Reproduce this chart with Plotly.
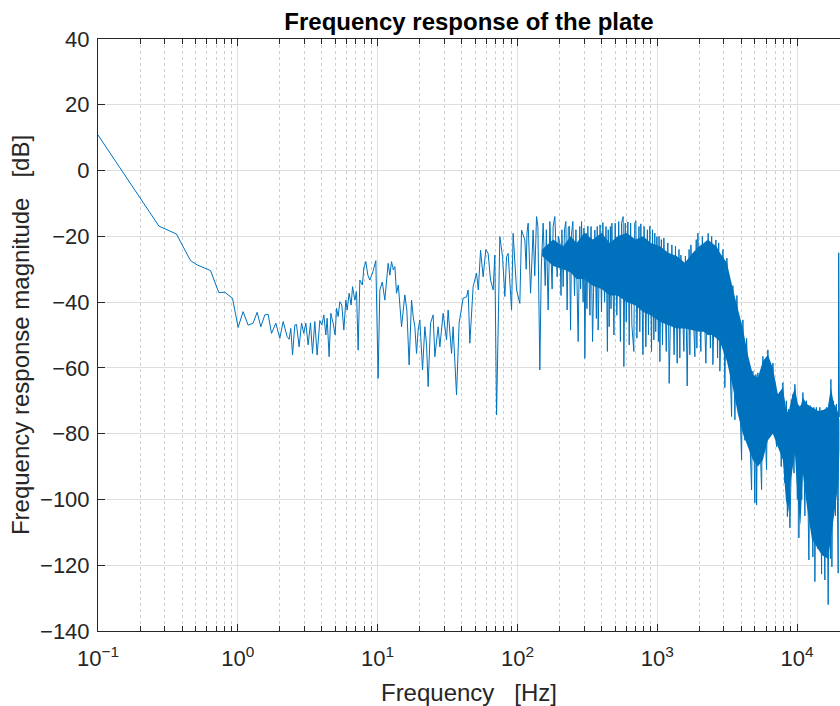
import plotly.graph_objects as go

# ---- data ----
# low-frequency part of the response (Hz, dB)
freq_low = [0.1, 0.273, 0.364, 0.459, 0.512, 0.638, 0.731, 0.807, 0.916, 1.005,
            1.091, 1.185, 1.286, 1.374, 1.461, 1.56, 1.647, 1.742, 1.87, 1.997,
            2.109, 2.253, 2.328, 2.393, 2.462, 2.557, 2.63, 2.745, 2.856, 2.965,
            3.064, 3.184, 3.311, 3.421, 3.554, 3.692, 3.86, 3.99, 4.124, 4.262,
            4.354, 4.50, 4.627, 4.806, 4.966, 5.082, 5.219, 5.366, 5.546, 5.731,
            5.924, 6.052, 6.255, 6.464, 6.616, 6.87, 7.063, 7.253, 7.46, 7.775,
            7.97, 8.234, 8.51, 8.797, 9.24, 9.707, 10.08, 10.37, 10.8, 11.26,
            11.89, 12.23, 12.57, 12.95, 13.28, 13.65, 14.06, 14.42, 14.83, 15.65,
            16.18, 16.80, 17.48, 18.01, 18.46, 18.98, 19.49, 20.04, 20.95, 21.76,
            22.38, 22.97, 23.9, 24.95, 25.66, 27.09, 27.86, 29.41, 31.11, 31.94,
            33.78, 34.67, 36.67, 38.28, 39.82, 40.89, 43.24, 44.40, 45.65, 48.21,
            50.98, 52.52, 54.46, 56.84, 59.43, 61.71, 64.21, 67.02, 68.92, 70.88,
            74.83, 78.23, 81.26, 83.56, 85.80, 90.74, 93.16, 98.53, 104.0, 106.98,
            112.96, 115.5, 117.0, 119.3, 124.1, 129.5, 133.0, 136.96, 140.0, 144.6,
            148.0, 152.7, 158.0, 161.0, 165.8, 170.5, 177.0, 180.0, 185.1, 192.3,
            196.0, 201.1, 205.0, 208.0]
mag_low = [10.8, -16.9, -19.3, -27.4, -28.7, -30.4, -37.1, -37.0, -38.8, -47.7,
           -42.9, -47.0, -46.4, -43.1, -47.5, -43.9, -43.7, -49.5, -46.4, -51.0,
           -45.9, -50.5, -51.3, -48.0, -56.1, -47.0, -46.8, -53.6, -46.4, -49.5,
           -46.4, -53.0, -46.3, -55.6, -45.9, -56.1, -45.6, -47.0, -43.9, -50.0,
           -44.9, -56.6, -43.4, -46.4, -50.0, -41.9, -44.4, -39.9, -40.9, -48.5,
           -39.4, -42.4, -37.3, -40.9, -35.3, -39.4, -36.8, -54.6, -33.3, -34.8,
           -29.6, -27.7, -31.8, -33.3, -30.8, -27.4, -63.2, -36.3, -33.9, -39.4,
           -28.2, -31.8, -27.7, -30.2, -29.2, -37.3, -34.8, -42.4, -47.5, -37.8,
           -42.4, -59.1, -39.4, -44.8, -47.5, -55.6, -48.5, -45.4, -60.6, -47.5,
           -53.0, -65.7, -46.4, -43.9, -56.6, -47.5, -53.6, -43.4, -51.5, -42.4,
           -55.6, -47.5, -68.2, -46.4, -42.4, -38.8, -38.4, -36.3, -52.5, -35.3,
           -31.2, -36.3, -24.2, -32.3, -24.0, -25.2, -33.3, -36.3, -25.7, -74.3,
           -20.1, -26.2, -38.3, -26.2, -25.2, -42.4, -19.1, -36.3, -40.4, -18.1,
           -21.1, -30.0, -19.0, -16.0, -37.3, -18.1, -32.0, -14.0, -17.0, -60.6,
           -30.0, -16.0, -35.0, -18.0, -42.4, -15.5, -36.0, -17.0, -14.0, -32.3,
           -20.0, -22.1, -38.0, -18.0]

# dense part: peaks and dips of the trace (Hz, dB)
freq_high = [212.3, 217, 221.9, 226.7, 231, 235.1, 239.8, 244, 249.1, 256,
             262, 271.8, 279, 283, 287.4, 295, 299, 303.5, 310, 314,
             318.8, 330, 336, 344.5, 350, 357.8, 367, 372, 377.9, 390,
             399, 408.2, 420, 430, 440, 446, 452.9, 462, 467, 473.5,
             490, 500, 514.0, 530, 545, 555, 570.2, 576.8, 590, 600,
             616.2, 630, 645, 658.2, 680, 690, 703.1, 714.5, 740, 750,
             763.1, 790, 805, 828.9, 850, 865, 885.3, 910, 925, 945.6,
             960, 975, 993.4, 1020, 1030, 1043.8, 1070, 1090, 1114.9, 1160,
             1190, 1216.6, 1271.9, 1320, 1350, 1388, 1430, 1450, 1475.3, 1550,
             1590, 1636.9, 1690, 1710, 1739.5, 1857.9, 1900, 1920, 1951.9, 2050,
             2100, 2226.7, 2312.8, 2400, 2450, 2498.2, 2626, 2700, 2750, 2804,
             2950, 3044, 3147, 3401, 3474, 3591, 3711, 4009, 4096, 4233,
             4354, 4726, 4829, 4991, 5074, 5133, 5244, 5573, 5692, 6050,
             6182, 6389, 6713, 7135, 7535, 7700, 7914, 8177, 8384, 8525,
             8667, 8882, 9333, 9500, 9646, 10049, 10183, 10302, 10558, 10800,
             11002, 11371, 11655, 12145, 12448, 12972, 13193, 13407, 13746, 14087,
             14556, 14973, 15093, 15811, 16207, 16694, 17000, 17300, 17450, 17740,
             18190, 18793, 19100, 19680, 19846, 20075]
mag_high = [-35.3, -18.0, -15.5, -42.4, -17.5, -16.9, -48.5, -19.0, -15.5, -38.0,
            -18.0, -52.0, -17.0, -36.0, -15.5, -40.0, -17.5, -57.1, -19.0, -42.0,
            -16.9, -44.0, -17.0, -52.0, -37.0, -18.1, -45.0, -17.0, -48.5, -16.5,
            -43.0, -15.8, -40.0, -17.0, -55.0, -18.0, -47.5, -17.0, -42.0, -16.0,
            -50.0, -16.0, -44.0, -15.5, -52.0, -16.0, -14.0, -59.6, -16.0, -46.0,
            -15.6, -53.0, -16.0, -47.0, -55.0, -16.0, -15.3, -51.0, -17.0, -49.0,
            -16.2, -56.0, -17.0, -53.6, -18.0, -50.0, -16.9, -55.0, -18.0, -51.5,
            -19.0, -49.0, -20.1, -52.0, -20.0, -58.1, -21.0, -53.0, -20.5, -55.0,
            -22.0, -64.7, -22.6, -56.0, -23.0, -58.6, -24.0, -57.0, -25.7, -55.0,
            -26.0, -65.5, -24.0, -56.0, -22.6, -56.6, -21.0, -54.0, -19.0, -55.0,
            -20.0, -58.6, -19.1, -54.0, -20.0, -59.0, -21.1, -57.0, -22.0, -61.0,
            -24.0, -66.0, -26.6, -74.8, -35.0, -75.8, -38.0, -88.0, -45.4, -82.0,
            -51.0, -97.1, -61.0, -101.0, -62.0, -101.7, -61.5, -97.0, -56.5, -91.0,
            -54.5, -80.0, -58.5, -84.0, -67.5, -90.0, -64.5, -95.0, -70.0, -105.2,
            -72.5, -108.6, -68.0, -92.0, -65.0, -100.0, -72.0, -111.7, -71.5, -100.0,
            -67.5, -105.0, -70.0, -118.4, -71.5, -117.5, -72.0, -125.0, -72.0, -115.0,
            -72.0, -122.7, -72.8, -124.5, -72.0, -132.0, -71.0, -118.0, -63.5, -120.5,
            -70.0, -105.0, -71.0, -122.4, -25.0, -75.0]

# dense band (solid body of the trace)
band_freq = [150, 180, 212, 240, 265, 300, 346, 400, 458, 520,
             603, 700, 793, 900, 1044, 1200, 1375, 1575, 1797, 2000,
             2154, 2300, 2458, 2650, 2804, 3147, 3474, 3772,
             4096, 4447, 4829, 5244, 5692, 6182, 6713, 7290, 7914, 8317,
             8667, 9030, 9646, 10131, 10558, 11002, 11755, 12763, 14087, 15093,
             16610, 17450, 18337, 19100, 19746, 20075]
band_top = [-24, -21, -23, -20, -22, -19, -21, -19, -22, -20,
            -19, -21, -20, -22, -23, -25, -26, -28, -25, -23,
            -22, -21, -22, -23, -25, -28, -36, -42,
            -48, -56, -62, -63, -58, -56, -60, -68, -66, -72,
            -74, -70, -66, -71, -72, -69, -71, -72, -73, -73,
            -72, -66, -71, -72, -74, -76]
band_bottom = [-26, -29, -30, -31, -33, -33, -35, -36, -38, -38,
               -40, -41, -43, -44, -46, -47, -48, -48, -48.5, -49,
               -49, -50, -50, -51, -52, -58, -66, -74,
               -80, -84, -88, -90, -88, -82, -80, -84, -88, -100,
               -104, -94, -86, -100, -108, -92, -102, -112, -115, -117,
               -118, -112, -105, -100, -95, -85]

x_tick_vals = [0.1, 1, 10, 100, 1000, 10000]
x_tick_text = ["10<sup>\u22121</sup>", "10<sup>0</sup>", "10<sup>1</sup>",
               "10<sup>2</sup>", "10<sup>3</sup>", "10<sup>4</sup>"]
y_tick_vals = [-140, -120, -100, -80, -60, -40, -20, 0, 20, 40]
y_tick_text = ["\u2212140", "\u2212120", "\u2212100", "\u221280", "\u221260",
               "\u221240", "\u221220", "0", "20", "40"]

BLUE = "#0072BD"
AX = "#262626"
FONT = "Liberation Sans, Arial, Helvetica, sans-serif"

fig = go.Figure()

# solid band
fig.add_trace(go.Scatter(
    x=band_freq + band_freq[::-1],
    y=band_top + band_bottom[::-1],
    fill="toself", fillcolor=BLUE, mode="lines",
    line=dict(width=0, color=BLUE), hoverinfo="skip", showlegend=False))

# the trace itself
fig.add_trace(go.Scatter(
    x=freq_low + freq_high, y=mag_low + mag_high,
    mode="lines", line=dict(color=BLUE, width=1), showlegend=False))

minor_x = [m * 10 ** e for e in range(-1, 5) for m in range(2, 10) if m * 10 ** e < 21000]

W, H = 840, 706
fig.update_layout(
    width=W, height=H,
    margin=dict(l=98, r=0, t=39, b=75),
    paper_bgcolor="white", plot_bgcolor="white",
    font=dict(family=FONT, color=AX, size=22),
    title=dict(text="<b>Frequency response of the plate</b>",
               x=0.5, xref="paper", xanchor="center",
               y=1 - 22 / H, yref="container", yanchor="middle",
               font=dict(family=FONT, size=24, color="black")),
    showlegend=False,
)

fig.update_xaxes(
    type="log", range=[-1, 4.307], automargin=False,
    tickvals=x_tick_vals, ticktext=x_tick_text,
    ticks="inside", ticklen=7, tickcolor=AX, tickwidth=1,
    showline=True, linecolor=AX, linewidth=1, mirror="ticks",
    showgrid=True, gridcolor="#dedede", gridwidth=1,
    zeroline=False,
    tickfont=dict(size=22, color=AX),
    ticklabelstandoff=8,
    minor=dict(tickvals=minor_x, ticks="inside", ticklen=5, tickcolor=AX,
               showgrid=True, gridcolor="#cfcfcf", griddash="dot", gridwidth=1),
    title=dict(text="Frequency\u00a0\u00a0\u00a0[Hz]", font=dict(size=24, color=AX),
               standoff=22),
)

fig.update_yaxes(
    range=[-140, 40], automargin=False,
    tickvals=y_tick_vals, ticktext=y_tick_text,
    ticks="inside", ticklen=7, tickcolor=AX, tickwidth=1,
    showline=True, linecolor=AX, linewidth=1, mirror=False,
    showgrid=True, gridcolor="#dedede", gridwidth=1,
    zeroline=False,
    tickfont=dict(size=22, color=AX),
    ticklabelstandoff=3,
    title=dict(text="Frequency response magnitude\u00a0\u00a0\u00a0[dB]",
               font=dict(size=24, color=AX), standoff=3),
)

# remove the page's default body margin so the figure sits at the window origin
fig.write_html(
    "out.html",
    config={"displayModeBar": False},
    post_script="document.body.style.margin='0';document.body.style.overflow='hidden';",
)
